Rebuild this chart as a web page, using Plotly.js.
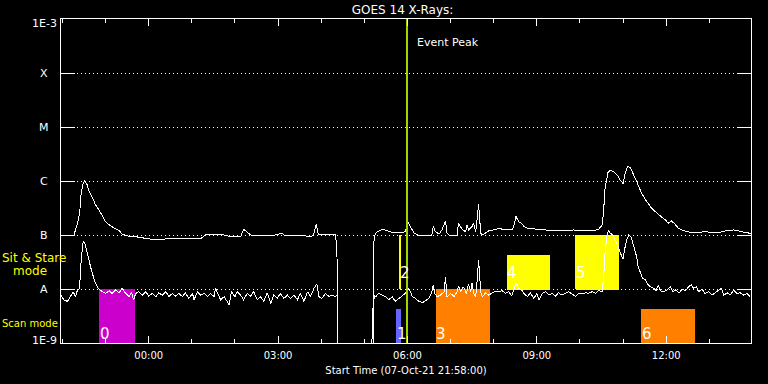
<!DOCTYPE html>
<html><head><meta charset="utf-8">
<script src="https://cdn.plot.ly/plotly-3.0.1.min.js"></script>
<style>html,body{margin:0;padding:0;background:#000;} #chart{width:768px;height:384px;}
#chart path.js-line{shape-rendering:crispEdges;}</style>
</head><body><div id="chart"></div>
<script>
// ---------------- data ----------------
const startTime = '2021-10-07 21:58:00';
const spanMinutes = 960;

// GOES long channel (1-8 A), minutes after start time, flux W/m^2 (1e-10 = no data)
const longMin = [0,18,20,23,26,28,31,33,36,39,
44,48,53,58,62,69,76,81,85,92,
106,120,132,139,148,159,194,201,215,224,
229,236,250,254,264,278,292,308,311,320,
333,347,351,355,358,368,382,383,384,385,
434,435,437,440,447,454,461,472,479,483,
486,491,496,507,516,518,521,526,530,535,
537,540,551,553,558,563,565,567,572,574,
577,579,581,584,586,591,595,602,609,614,
618,628,631,633,637,641,644,649,658,672,
686,699,713,727,741,748,753,755,757,761,
764,769,774,778,782,785,788,792,797,801,
804,808,815,822,832,841,845,849,854,859,
866,878,887,896,906,915,924,936,943,952,
960];
const longFlux = [9.6e-8,9.6e-8,1.24e-7,1.67e-7,2.55e-7,6.0e-7,9.2e-7,1.0e-6,8.8e-7,6.4e-7,
4.84e-7,3.6e-7,2.9e-7,2.2e-7,1.76e-7,1.47e-7,1.33e-7,1.2e-7,1.04e-7,9.6e-8,
9.2e-8,8.7e-8,8.07e-8,8.4e-8,8.5e-8,8.5e-8,8.5e-8,1.0e-7,1.02e-7,1.04e-7,
9.8e-8,9.3e-8,9.3e-8,1.28e-7,1.0e-7,9.6e-8,9.6e-8,1.08e-7,9.6e-8,9.6e-8,
9.8e-8,9.4e-8,9.8e-8,1.58e-7,1.04e-7,1.02e-7,1.0e-7,7.1e-8,4.0e-8,1e-10,
1e-10,7.0e-8,1.04e-7,1.15e-7,1.28e-7,1.2e-7,1.12e-7,1.1e-7,1.15e-7,1.69e-7,
1.43e-7,1.1e-7,1.0e-7,9.9e-8,1.0e-7,1.43e-7,1.15e-7,1.04e-7,1.24e-7,1.82e-7,
1.1e-7,1.0e-7,1.0e-7,1.65e-7,1.28e-7,1.15e-7,1.53e-7,1.24e-7,1.43e-7,1.65e-7,
1.15e-7,2.04e-7,3.7e-7,1.08e-7,1.0e-7,1.1e-7,1.19e-7,1.24e-7,1.33e-7,1.28e-7,
1.24e-7,1.24e-7,1.6e-7,2.2e-7,1.76e-7,1.65e-7,1.43e-7,1.33e-7,1.29e-7,1.24e-7,
1.2e-7,1.2e-7,1.24e-7,1.2e-7,1.2e-7,1.28e-7,1.53e-7,2.9e-7,7.5e-7,1.43e-6,
1.6e-6,1.49e-6,1.29e-6,1.04e-6,9.0e-7,1.4e-6,1.85e-6,1.8e-6,1.22e-6,9.7e-7,
7.8e-7,5.9e-7,4.15e-7,3.1e-7,2.35e-7,1.9e-7,1.65e-7,1.84e-7,1.6e-7,1.33e-7,
1.2e-7,1.1e-7,1.1e-7,1.17e-7,1.1e-7,1.1e-7,1.19e-7,1.24e-7,1.19e-7,1.1e-7,
1.08e-7];

// GOES short channel (0.5-4 A)
const shortMin = [0,4,9,13,17,20,23,26,27,29,31,33,36,39,41,44,47,51,54,58,
62,67,71,76,81,85,90,95,98,101,104,108,113,118,122,127,132,136,141,146,
150,155,159,164,169,173,178,183,185,190,194,199,204,208,213,215,219,222,227,231,
234,237,242,245,250,254,259,264,268,273,278,282,287,292,296,301,305,310,315,319,
324,329,333,338,343,347,352,356,359,363,368,373,377,382,384,385,432,433,434,436,
438,442,447,452,456,461,465,470,475,479,484,486,489,493,498,503,507,512,516,518,
520,523,528,533,535,537,542,547,551,553,556,560,564,567,570,572,574,577,579,581,
584,586,591,595,600,604,609,614,618,623,627,630,633,637,641,644,649,653,658,662,
665,669,674,679,683,688,692,697,702,706,711,716,720,725,730,734,739,744,748,753,
755,757,760,762,764,768,771,775,778,782,784,787,790,793,797,801,803,806,809,813,
817,820,825,828,831,834,838,843,848,851,855,860,864,869,873,877,880,884,887,892,
896,901,906,910,915,919,922,927,931,936,940,945,950,954,959];
const shortFlux = [7.7e-9,6.3e-9,5.9e-9,7.2e-9,8.9e-9,7.2e-9,9.6e-9,1.03e-8,2.25e-8,4.6e-8,7.8e-8,7.2e-8,4.6e-8,3.44e-8,2.6e-8,1.82e-8,1.37e-8,1.07e-8,9.6e-9,8.9e-9,
8.3e-9,9.3e-9,8.3e-9,9.6e-9,8.5e-9,1.03e-8,8.3e-9,7.2e-9,8.9e-9,6.3e-9,8.3e-9,8.9e-9,7.7e-9,8.9e-9,7.4e-9,8.3e-9,7.2e-9,8.5e-9,7.7e-9,8.9e-9,
7.2e-9,8.3e-9,7.4e-9,8.3e-9,7.2e-9,8.5e-9,6.7e-9,8.3e-9,6.3e-9,8.9e-9,7.7e-9,8.3e-9,7.2e-9,8.3e-9,7.2e-9,1.03e-8,7.7e-9,6.3e-9,7.2e-9,5.9e-9,
5.1e-9,8.9e-9,7.2e-9,8.9e-9,7.7e-9,6.3e-9,8.3e-9,7.4e-9,8.9e-9,6.3e-9,7.2e-9,5.9e-9,8.5e-9,5.4e-9,7.7e-9,6.7e-9,8.3e-9,6.7e-9,7.7e-9,6.7e-9,
7.7e-9,6.3e-9,8.3e-9,5.9e-9,8.9e-9,7.2e-9,1.03e-8,1.24e-8,7.2e-9,6.7e-9,8.3e-9,7.2e-9,7.7e-9,7.2e-9,7.7e-9,1e-10,1e-10,3.2e-9,4.0e-9,7.5e-9,
7.2e-9,8.3e-9,7.7e-9,7.2e-9,6.3e-9,7.2e-9,5.9e-9,6.7e-9,7.4e-9,8.3e-9,1.03e-8,8.9e-9,7.2e-9,6.7e-9,5.9e-9,5.6e-9,6.1e-9,6.7e-9,8.9e-9,1.19e-8,
8.3e-9,7.2e-9,7.7e-9,8.9e-9,1.65e-8,7.2e-9,8.3e-9,7.2e-9,8.9e-9,1.14e-8,8.9e-9,1.1e-8,8.3e-9,1.24e-8,8.9e-9,1.31e-8,8.3e-9,7.2e-9,1.47e-8,3.44e-8,
8.9e-9,7.2e-9,8.5e-9,7.7e-9,8.5e-9,8.9e-9,8.9e-9,9.3e-9,8.3e-9,8.9e-9,7.4e-9,9.6e-9,1.27e-8,1.03e-8,9.6e-9,8.3e-9,7.2e-9,8.5e-9,6.7e-9,8.3e-9,
6.3e-9,8.1e-9,8.9e-9,7.7e-9,8.3e-9,7.4e-9,8.5e-9,7.7e-9,8.3e-9,8.9e-9,8.1e-9,7.2e-9,8.3e-9,8.1e-9,8.5e-9,8.3e-9,8.9e-9,8.3e-9,9.3e-9,8.9e-9,
1.69e-8,4.6e-8,1.1e-7,1.2e-7,1.08e-7,1.0e-7,8.07e-8,6.25e-8,4.7e-8,3.6e-8,5.27e-8,8.3e-8,1.0e-7,9.3e-8,6.1e-8,3.9e-8,2.6e-8,1.95e-8,1.58e-8,1.47e-8,
1.19e-8,1.1e-8,1.03e-8,9.3e-9,1.19e-8,9.3e-9,8.9e-9,9.6e-9,1.1e-8,8.9e-9,9.6e-9,8.5e-9,9.9e-9,9.3e-9,1.1e-8,1.19e-8,1.03e-8,1.1e-8,8.9e-9,9.9e-9,
8.3e-9,8.9e-9,7.7e-9,8.5e-9,9.3e-9,1.03e-8,7.7e-9,8.5e-9,7.7e-9,9.6e-9,8.3e-9,8.5e-9,7.7e-9,8.3e-9,7.2e-9];

// observation windows (minutes after start time)
const barLabels = ['0','1','2','3','4','5','6'];
const barStart  = [54, 467, 471, 522, 621, 716, 808];
const barEnd    = [102, 472, 472, 596, 680, 775, 881];
const barBottom = [1e-9, 1e-9, 1e-8, 1e-9, 1e-8, 1e-8, 1e-9];
const barTop    = [1e-8, 4.1e-9, 1e-7, 1e-8, 4.1e-8, 1e-7, 4.1e-9];
const labelLevel = [1.56e-9, 1.56e-9, 2.1e-8, 1.56e-9, 2.1e-8, 2.1e-8, 1.56e-9];
const barColors = ['#cc00cc', '#6464ff', '#ffff00', '#ff8000', '#ffff00', '#ffff00', '#ff8000'];

const eventPeakMin = 482;

const classVals = [1e-9, 1e-8, 1e-7, 1e-6, 1e-5, 1e-4, 1e-3];
const classText = ['1E-9', 'A', 'B', 'C', 'M', 'X', '1E-3'];
const timeTickVals = ['2021-10-08 00:00', '2021-10-08 03:00', '2021-10-08 06:00', '2021-10-08 09:00', '2021-10-08 12:00'];
const timeTickText = ['00:00', '03:00', '06:00', '09:00', '12:00'];

// ---------------- drawing ----------------
const t0 = new Date(startTime.replace(' ', 'T') + 'Z').getTime();
const toDate = m => new Date(t0 + m * 60000).toISOString().slice(0, 19).replace('T', ' ');
const FONT = 'DejaVu Sans';

const traces = [];
for (let i = 0; i < barLabels.length; i++) {
  const s = toDate(barStart[i]), e = toDate(barEnd[i]);
  traces.push({
    type: 'scatter', mode: 'lines', x: [s, e, e, s, s],
    y: [barBottom[i], barBottom[i], barTop[i], barTop[i], barBottom[i]],
    fill: 'toself', fillcolor: barColors[i],
    line: {color: barColors[i], width: 1}, hoverinfo: 'skip', showlegend: false
  });
}
traces.push({type: 'scatter', mode: 'lines', x: longMin.map(toDate), y: longFlux,
  line: {color: '#ffffff', width: 1}, showlegend: false});
traces.push({type: 'scatter', mode: 'lines', x: shortMin.map(toDate), y: shortFlux,
  line: {color: '#ffffff', width: 1}, showlegend: false});
traces.push({type: 'scatter', mode: 'lines', x: [toDate(eventPeakMin), toDate(eventPeakMin)],
  y: [classVals[0], classVals[classVals.length - 1]],
  line: {color: '#a2d400', width: 2}, showlegend: false});

const annotations = [];
classVals.forEach((v, i) => {
  annotations.push({xref: 'paper', x: 0, xanchor: 'center', xshift: -17,
    yref: 'y', y: Math.log10(v), yanchor: 'middle',
    yshift: i === 0 ? 3 : (i === classVals.length - 1 ? -4 : 0),
    text: classText[i], showarrow: false, font: {family: FONT, size: 11, color: '#ffffff'}});
});
barLabels.forEach((t, i) => {
  annotations.push({xref: 'x', x: toDate(barStart[i]), xanchor: 'left', xshift: -2,
    yref: 'y', y: Math.log10(labelLevel[i]), yanchor: 'middle', yshift: -1,
    text: t, showarrow: false, font: {family: FONT, size: 15, color: '#ffffff'}});
});
annotations.push({xref: 'x', x: toDate(eventPeakMin), xanchor: 'left', xshift: 8,
  yref: 'paper', y: 0.926, yanchor: 'middle', text: 'Event Peak', showarrow: false,
  font: {family: FONT, size: 11, color: '#ffffff'}});
annotations.push({xref: 'paper', x: 0, xanchor: 'left', xshift: -61,
  yref: 'paper', y: 0.2614, yanchor: 'middle', text: 'Sit & Stare', showarrow: false,
  font: {family: FONT, size: 12, color: '#ffff00'}});
annotations.push({xref: 'paper', x: 0, xanchor: 'left', xshift: -50,
  yref: 'paper', y: 0.222, yanchor: 'middle', text: 'mode', showarrow: false,
  font: {family: FONT, size: 12, color: '#ffff00'}});
annotations.push({xref: 'paper', x: 0, xanchor: 'left', xshift: -61,
  yref: 'paper', y: 0.0602, yanchor: 'middle', text: 'Scan mode', showarrow: false,
  font: {family: FONT, size: 10, color: '#ffff00'}});

const layout = {
  width: 768, height: 384,
  paper_bgcolor: '#000000', plot_bgcolor: '#000000',
  margin: {l: 61, r: 17, t: 19, b: 41, pad: 0},
  showlegend: false,
  font: {family: FONT, size: 10, color: '#ffffff'},
  title: {text: 'GOES 14 X-Rays:', font: {family: FONT, size: 12, color: '#ffffff'},
    xref: 'paper', x: 0.495, xanchor: 'center', yref: 'container', y: 0.975, yanchor: 'middle'},
  xaxis: {
    type: 'date', range: [toDate(0), toDate(spanMinutes)],
    showline: true, linecolor: '#ffffff', linewidth: 1, mirror: 'ticks',
    ticks: 'inside', ticklen: 7, tickcolor: '#ffffff', tickwidth: 1,
    tickmode: 'array', tickvals: timeTickVals, ticktext: timeTickText,
    tickfont: {family: FONT, size: 10, color: '#ffffff'}, ticklabelstandoff: 3,
    minor: {ticks: 'inside', ticklen: 4, tickcolor: '#ffffff', tickmode: 'linear',
      tick0: '2021-10-08 00:00', dtick: 3600000, showgrid: false},
    showgrid: false, zeroline: false,
    title: {text: 'Start Time (07-Oct-21 21:58:00)', font: {family: FONT, size: 10, color: '#ffffff'}, standoff: 6}
  },
  yaxis: {
    type: 'log', range: [-9, -3],
    showline: true, linecolor: '#ffffff', linewidth: 1, mirror: 'ticks',
    ticks: 'inside', ticklen: 14, tickcolor: '#ffffff', tickwidth: 1,
    tickmode: 'array', tickvals: classVals, showticklabels: false,
    showgrid: true, gridcolor: '#ffffff', gridwidth: 1, griddash: '1px,3px',
    zeroline: false
  },
  annotations: annotations
};

Plotly.newPlot('chart', traces, layout, {staticPlot: true, displayModeBar: false});
</script>
</body></html>
